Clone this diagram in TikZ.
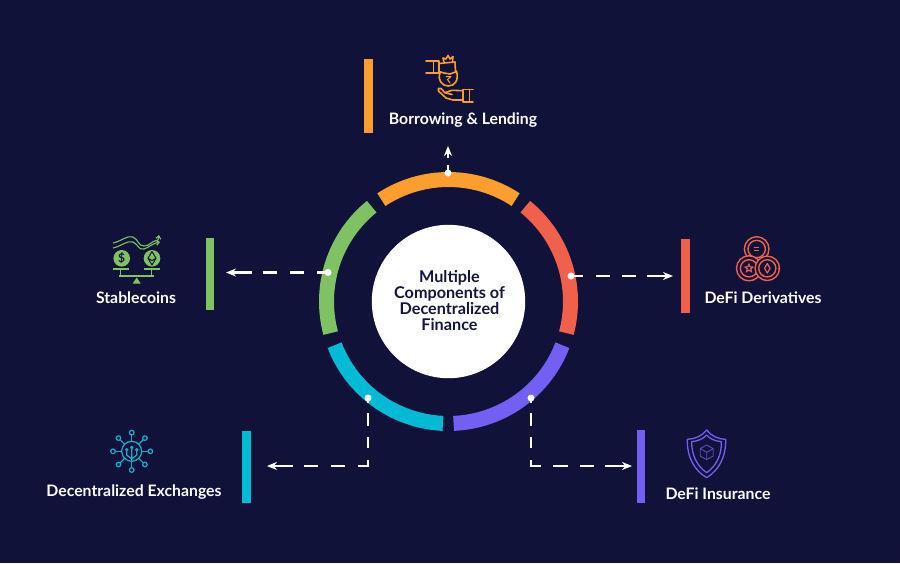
\documentclass[tikz,border=0pt]{standalone}
\usepackage{fontspec}
\setmainfont{Lato}
\usetikzlibrary{arrows.meta,shapes.geometric}
\definecolor{bgnavy}{HTML}{10123A}
\definecolor{hubtext}{HTML}{15163F}
\definecolor{ringorange}{HTML}{FB9E2E}
\definecolor{ringred}{HTML}{F0604A}
\definecolor{ringgreen}{HTML}{7FC263}
\definecolor{ringcyan}{HTML}{00BBD3}
\definecolor{ringpurple}{HTML}{7360F2}
\definecolor{netcyan}{HTML}{12AFCF}
\begin{document}
\begin{tikzpicture}[x=1pt,y=-1pt,every node/.style={outer sep=0pt},
  ringpart/.style={line width=15pt},
  barnode/.style={minimum width=8.4pt,inner sep=0pt},
  dotnode/.style={circle,fill=white,minimum size=7pt,inner sep=0pt},
  linknode/.style={draw=white,line width=2.4pt,-{Stealth[length=10pt,width=8pt]}},
  labelnode/.style={text=white,font=\bfseries\fontsize{15.8}{16}\selectfont,inner sep=0pt},
  iconline/.style={line width=1.6pt,line cap=round,line join=round,fill=none}]
\useasboundingbox (0,0) rectangle (900,563);
\fill[bgnavy] (0,0) rectangle (900,563);
% ring
\draw[ringpart,ringorange] ([shift={(-123.4:122)}]448.5,301.5) arc[start angle=-123.4,end angle=-56.6,radius=122];
\draw[ringpart,ringred] ([shift={(-51:122)}]448.5,301.5) arc[start angle=-51,end angle=15,radius=122];
\draw[ringpart,ringpurple] ([shift={(87.6:122)}]448.5,301.5) arc[start angle=87.6,end angle=21,radius=122];
\draw[ringpart,ringcyan] ([shift={(92.6:122)}]448.5,301.5) arc[start angle=92.6,end angle=159,radius=122];
\draw[ringpart,ringgreen] ([shift={(165:122)}]448.5,301.5) arc[start angle=165,end angle=231,radius=122];
% middle
\node[circle,fill=white,minimum size=153.4pt,inner sep=0pt] (hub) at (448.5,301.5) {};
\node[text=hubtext,align=center,inner sep=0pt,font=\fontsize{16.2}{16}\selectfont\bfseries] (hubtitle) at (449.5,301) {Multiple\\Components of\\Decentralized\\Finance};
% bars
\node[barnode,fill=ringorange,minimum height=74pt] (orangebar) at (368.3,96) {};
\node[barnode,fill=ringgreen,minimum height=72pt] (greenbar) at (210,273.7) {};
\node[barnode,fill=ringred,minimum height=74pt] (redbar) at (685.4,276) {};
\node[barnode,fill=ringcyan,minimum height=72pt] (cyanbar) at (246.6,467) {};
\node[barnode,fill=ringpurple,minimum height=73pt] (purplebar) at (641,466.5) {};
% dots and arrow ends
\node[dotnode] (orangedot) at (448,173) {};
\node[dotnode] (greendot) at (328,272.5) {};
\node[dotnode] (reddot) at (571,276) {};
\node[dotnode] (cyandot) at (368,398) {};
\node[dotnode] (purpledot) at (531,398) {};
\coordinate (orangetip) at (448,146);
\coordinate (greentip) at (226,272.5);
\coordinate (redtip) at (673,276);
\coordinate (cyantip) at (267,466);
\coordinate (purpletip) at (632,466);
% connectors
\draw[linknode,dash pattern=on 8pt off 7pt on 20pt] (orangedot.center) -- (orangetip);
\draw[linknode,dash pattern=on 11pt off 13pt on 14pt off 13pt on 14pt off 11pt on 30pt] (greendot.center) -- (greentip);
\draw[linknode,dash pattern=on 12pt off 12.5pt on 14pt off 12.5pt on 14pt off 11pt on 30pt] (reddot.center) -- (redtip);
\draw[linknode,dash pattern=on 5pt off 10pt on 13pt off 11pt on 11pt off 12pt on 16pt off 13pt on 14pt off 13pt on 14pt off 11pt on 30pt] (cyandot.center) |- (cyantip);
\draw[linknode,dash pattern=on 5pt off 10pt on 13pt off 11pt on 11pt off 12pt on 16pt off 12pt on 15pt off 12pt on 14pt off 11pt on 30pt] (purpledot.center) |- (purpletip);
% labels
\node[labelnode] (orangelabel) at (463,120) {Borrowing \& Lending};
\node[labelnode] (greenlabel) at (136,298) {Stablecoins};
\node[labelnode] (redlabel) at (763,298) {DeFi Derivatives};
\node[labelnode] (cyanlabel) at (134,492) {Decentralized Exchanges};
\node[labelnode] (purplelabel) at (718,494) {DeFi Insurance};
% borrowing icon
\draw[iconline,ringorange] (426,61) -- (439,61) -- (439,73) -- (426,73);
\draw[iconline,ringorange] (433.5,61) -- (433.5,73);
\draw[iconline,ringorange] (439,63.5) -- (444,63) -- (455,62) -- (455.5,72) -- (450,74) -- (444,73) -- (439,71.5);
\draw[iconline,ringorange] (444,62) -- (443,58) -- (446,59) -- (448,55.5) -- (450,59) -- (453,56.5) -- (452.5,61.5);
\draw[iconline,ringorange] (440.2,72.5) .. controls (437,80) and (442,86) .. (448.3,86) .. controls (455,86) and (459,80) .. (456.5,71);
\draw[iconline,ringorange,line width=1pt] (446,76.5) -- (451,76.5) -- (447.5,79.5) -- (450,83);
\draw[iconline,ringorange] (473,89.3) -- (463,89.3) -- (463,101.7) -- (473,101.7);
\draw[iconline,ringorange] (469.5,89.3) -- (469.5,101.7);
\draw[iconline,ringorange] (463,90.7) -- (452,90.3) -- (445,92.7) -- (441,88.5) .. controls (439,87) and (437,89) .. (438.5,91) -- (446,98) -- (453,100) -- (463,100);
\draw[iconline,ringorange] (445,92.7) -- (452,94.5);
% stablecoin icon
\fill[ringgreen] (121.7,258.3) circle[radius=8.3];
\fill[ringgreen] (152,258.3) circle[radius=8.3];
\node[inner sep=0pt,text=bgnavy,font=\bfseries\fontsize{12}{12}\selectfont] (coindollar) at (121.7,258.3) {\$};
\draw[bgnavy,line width=1pt,line join=round] (152,251.5) -- (156,258.3) -- (152,265) -- (148,258.3) -- cycle (148,258.3) -- (152,260.5) -- (156,258.3);
\draw[ringgreen,line width=2pt] (113.3,268.7) -- (129.3,268.7);
\draw[ringgreen,line width=2pt] (144,268.7) -- (160,268.7);
\draw[ringgreen,line width=1.4pt] (120.7,269) -- (120.7,277);
\draw[ringgreen,line width=1.4pt] (151.7,269) -- (151.7,277);
\draw[ringgreen,line width=1.4pt] (119.3,276) -- (154,276);
\fill[ringgreen] (132.7,283.5) -- (140.7,283.5) -- (136.7,277.5) -- cycle;
\draw[ringgreen,line width=1.1pt,-{Straight Barb[length=3pt,width=5pt]}] (113,243) .. controls (122,241) and (127,235) .. (133,237) .. controls (139,240) and (138,246) .. (144,246) .. controls (150,246) and (151,241) .. (158,240) -- (159,235);
\draw[ringgreen,line width=1.1pt,-{Straight Barb[length=3pt,width=5pt]}] (113,248) .. controls (122,246) and (127,240) .. (133,242) .. controls (139,245) and (138,250) .. (144,249) .. controls (150,247) and (151,244) .. (160,242);
% derivatives icon
\draw[ringred,line width=1.4pt,fill=bgnavy] (756.7,249) circle[radius=12.3];
\draw[ringred,line width=1.4pt] (756.7,249) circle[radius=8.7];
\draw[ringred,line width=1.4pt] (754,247.5) -- (759.4,247.5) (754,250.5) -- (759.4,250.5);
\draw[ringred,line width=1.4pt,fill=bgnavy] (749,268.3) circle[radius=12.5];
\draw[ringred,line width=1.4pt] (749,268.3) circle[radius=8.6];
\node[star,star points=5,star point ratio=2.2,draw=ringred,line width=1.2pt,minimum size=8pt,inner sep=0pt] (derivstar) at (749,268.3) {};
\draw[ringred,line width=1.4pt,fill=bgnavy] (767.3,268.3) circle[radius=12.2];
\draw[ringred,line width=1.4pt] (767.3,268.3) circle[radius=8.6];
\draw[ringred,line width=1.2pt,line join=round] (767.3,263.5) -- (770,268.3) -- (767.3,273) -- (764.6,268.3) -- cycle;
\draw[ringred,line width=1.4pt] (777.5,268.3) -- (779.5,268.3);
% exchanges icon
\draw[netcyan,line width=1.2pt] (131.7,451.3) circle[radius=10];
\draw[netcyan,line width=1.2pt] (131.7,441.3) -- (131.7,435) (131.7,461.3) -- (131.7,467.6) (121.7,451.3) -- (115.4,451.3) (141.7,451.3) -- (148,451.3);
\draw[netcyan,line width=1.2pt] (124.6,444.2) -- (120.1,439.7) (138.8,444.2) -- (143.3,439.7) (124.6,458.4) -- (120.1,462.9) (138.8,458.4) -- (143.3,462.9);
\draw[netcyan,line width=1.2pt] (131.7,432.6) circle[radius=2.3];
\draw[netcyan,line width=1.2pt] (131.7,470) circle[radius=2.3];
\draw[netcyan,line width=1.2pt] (113,451.3) circle[radius=2.3];
\draw[netcyan,line width=1.2pt] (150.4,451.3) circle[radius=2.3];
\draw[netcyan,line width=1.2pt] (118.5,438.1) circle[radius=2.3];
\draw[netcyan,line width=1.2pt] (144.9,438.1) circle[radius=2.3];
\draw[netcyan,line width=1.2pt] (118.5,464.5) circle[radius=2.3];
\draw[netcyan,line width=1.2pt] (144.9,464.5) circle[radius=2.3];
\draw[netcyan,line width=1.2pt] (131.7,449) -- (131.7,461) (126.7,451) -- (126.7,455) -- (131.7,459) (136.7,451) -- (136.7,455) -- (131.7,459);
\draw[netcyan,line width=1pt] (131.7,447.5) circle[radius=1.2] (126.7,449.7) circle[radius=1.2] (136.7,449.7) circle[radius=1.2];
% insurance icon
\draw[ringpurple,line width=1.3pt,line join=round] (706.7,430) .. controls (702,436) and (695,439) .. (687.3,439.3) .. controls (687,457) and (694,470) .. (706.7,477.7) .. controls (719,470) and (726,457) .. (725.7,439.3) .. controls (718,439) and (711,436) .. (706.7,430) -- cycle;
\draw[ringpurple,line width=1.3pt,line join=round] (706.7,435) .. controls (703,439) and (698,441) .. (691.7,441.7) .. controls (691.5,455) and (697,466) .. (706.7,472.7) .. controls (716,466) and (722,455) .. (721.3,441.7) .. controls (715,441) and (710,439) .. (706.7,435) -- cycle;
\draw[ringpurple!80!black,line width=.9pt,line join=round] (706.7,445) -- (713.2,448.6) -- (713.2,456) -- (706.7,459.6) -- (700.2,456) -- (700.2,448.6) -- cycle (700.2,448.6) -- (706.7,452.3) -- (713.2,448.6) (706.7,452.3) -- (706.7,459.6);
\end{tikzpicture}
\end{document}
